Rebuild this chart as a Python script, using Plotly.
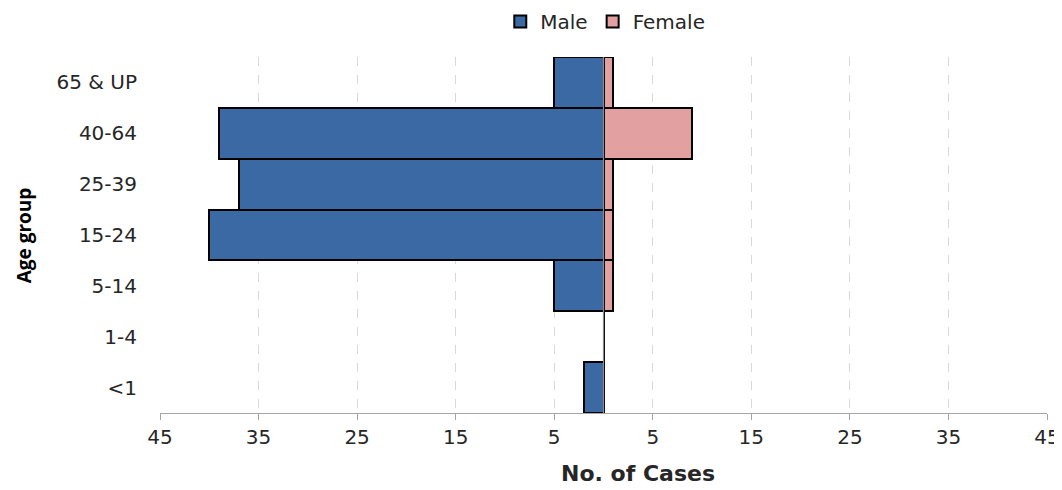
import plotly.graph_objects as go

age_groups = ["<1", "1-4", "5-14", "15-24", "25-39", "40-64", "65 & UP"]
male_cases = [2, 0, 5, 40, 37, 39, 5]
female_cases = [0, 0, 1, 1, 1, 9, 1]
tick_values = [-45, -35, -25, -15, -5, 5, 15, 25, 35, 45]
tick_labels = [str(abs(v)) for v in tick_values]

fig = go.Figure()
fig.add_trace(go.Bar(
    y=age_groups, x=[-v for v in male_cases], name="Male", orientation="h",
    marker=dict(color="#3a69a3", line=dict(color="#000000", width=2)),
))
fig.add_trace(go.Bar(
    y=age_groups, x=female_cases, name="Female", orientation="h",
    marker=dict(color="#e3a0a0", line=dict(color="#000000", width=2)),
))

fig.add_shape(type="line", xref="x", yref="paper", x0=0, x1=0, y0=0, y1=1,
              line=dict(color="#8c8c8c", width=1.2), layer="above")

fig.add_annotation(text="<b>No. of Cases</b>", xref="paper", yref="paper",
                   x=0.539, y=-0.17, xanchor="center", yanchor="middle", showarrow=False,
                   font=dict(family="DejaVu Sans", size=22, color="#262626"))
fig.add_annotation(text="<b>Age group</b>", xref="paper", yref="paper",
                   x=-0.153, y=0.5, xanchor="center", yanchor="middle", showarrow=False,
                   textangle=-90,
                   font=dict(family="Open Sans", size=19, color="#000000"))

# the page body adds an 8px offset, so the figure is drawn 8px smaller with shifted margins
fig.update_layout(
    width=1054, height=482,
    margin=dict(l=152, r=15, t=49, b=77, autoexpand=False),
    barmode="relative", bargap=0,
    plot_bgcolor="white", paper_bgcolor="white",
    font=dict(family="DejaVu Sans", size=20, color="#262626"),
    legend=dict(orientation="h", x=0.502, xanchor="center", y=1.1, yanchor="middle",
                font=dict(size=20), traceorder="normal", itemwidth=30),
    xaxis=dict(
        range=[-45, 45], tickvals=tick_values, ticktext=tick_labels,
        showgrid=True, gridcolor="#d9d9d9", griddash="dash", gridwidth=1,
        zeroline=False, showline=True, linecolor="#a6a6a6", linewidth=1,
        ticks="outside", tickcolor="#a6a6a6", ticklen=6, automargin=False,
        ticklabeloverflow="allow",
    ),
    yaxis=dict(
        categoryorder="array", categoryarray=age_groups,
        showgrid=False, zeroline=False, showline=False, ticks="",
        ticklabelstandoff=22, automargin=False,
    ),
)

fig.write_html("out.html")
